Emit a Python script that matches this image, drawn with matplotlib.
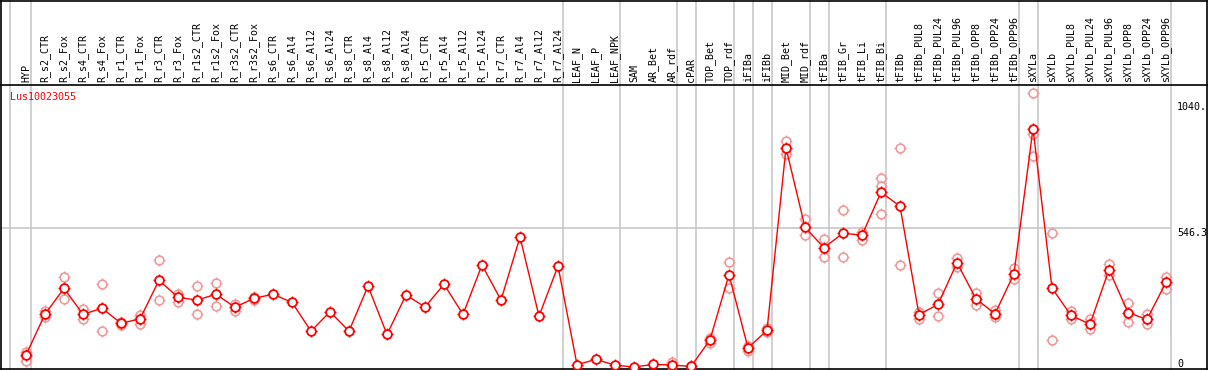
import matplotlib
matplotlib.use("Agg")
import matplotlib.pyplot as plt

# sample labels (columns of the expression profile)
labels = ["HYP",
          "R_s2_CTR", "R_s2_Fox", "R_s4_CTR", "R_s4_Fox", "R_r1_CTR", "R_r1_Fox",
          "R_r3_CTR", "R_r3_Fox", "R_r1s2_CTR", "R_r1s2_Fox", "R_r3s2_CTR", "R_r3s2_Fox",
          "R_s6_CTR", "R_s6_Al4", "R_s6_Al12", "R_s6_Al24",
          "R_s8_CTR", "R_s8_Al4", "R_s8_Al12", "R_s8_Al24",
          "R_r5_CTR", "R_r5_Al4", "R_r5_Al12", "R_r5_Al24",
          "R_r7_CTR", "R_r7_Al4", "R_r7_Al12", "R_r7_Al24",
          "LEAF_N", "LEAF_P", "LEAF_NPK", "SAM", "AR_Bet", "AR_rdf", "cPAR",
          "TOP_Bet", "TOP_rdf", "iFIBa", "iFIBb", "MID_Bet", "MID_rdf",
          "tFIBa", "tFIB_Gr", "tFIB_Li", "tFIB_Bi", "tFIBb",
          "tFIBb_PUL8", "tFIBb_PUL24", "tFIBb_PUL96", "tFIBb_OPP8", "tFIBb_OPP24", "tFIBb_OPP96",
          "sXYLa", "sXYLb",
          "sXYLb_PUL8", "sXYLb_PUL24", "sXYLb_PUL96", "sXYLb_OPP8", "sXYLb_OPP24", "sXYLb_OPP96"]

means = [47,
         208, 309, 207, 231, 172, 189,
         341, 274, 263, 286, 235, 270,
         286, 254, 141, 217,
         141, 318, 128, 283,
         236, 325, 207, 401,
         263, 511, 200, 397,
         9, 30, 7, 0, 10, 8, 2,
         107, 363, 75, 144, 861, 549,
         469, 526, 518, 687, 632,
         206, 246, 410, 268, 209, 367,
         937, 310,
         203, 168, 383, 214, 187, 333]

replicates = [[60, 45, 25],
              [221, 198], [352, 268], [228, 189], [325, 140], [176, 165], [204, 169],
              [419, 262], [288, 255], [317, 207], [330, 241], [249, 220], [276, 264],
              [], [], [], [],
              [], [], [], [],
              [], [], [], [],
              [], [], [], [],
              [], [], [], [], [], [18, 2], [4],
              [115, 96], [413, 311], [83, 63], [155, 138], [887, 838], [580, 517],
              [503, 431], [619, 431], [532, 499], [742, 713, 600], [861, 400],
              [217, 190], [291, 200], [430, 393], [291, 242], [226, 196], [390, 344],
              [1076, 914, 829], [528, 105],
              [220, 190], [187, 148], [406, 360], [250, 178], [207, 170], [355, 305]]

group_ends = [-1.09, 0, 28, 31, 34, 35, 37, 38, 39, 41, 42, 45, 52, 53, 60]
tick_vals = [1040, 546.3, 0]
tick_text = ["1040.", "546.3", "0"]
gene = "Lus10023055"

# pixel layout: column i sits at x = 26 + 19*i, value v at y = 367 - 0.2544*v
W, H = 1209, 370
def px_x(p):
    return (p - 26) / 19.0
def px_y(p):
    return (367 - p) / 0.2544

fig = plt.figure(figsize=(W / 100, H / 100), dpi=100)
ax = fig.add_axes([0, 0, 1, 1])
ax.set_xlim(px_x(0), px_x(W))
ax.set_ylim(px_y(H), px_y(0))
ax.axis("off")

mono = "DejaVu Sans Mono"
fs = 7.2
gray = "#c8c8c8"

# grid: group separators and value line
for g in group_ends:
    ax.axvline(g + 0.25, color=gray, lw=1.2, zorder=1)
ax.plot([px_x(1), px_x(1170)], [tick_vals[1], tick_vals[1]], color=gray, lw=1.2, zorder=1)

# frame
top, hdr, bot = px_y(0.5), px_y(85), px_y(369)
left, right = px_x(1.5), px_x(1207)
ax.plot([left, right], [top, top], color="black", lw=1.2)
ax.plot([left, right], [hdr, hdr], color="black", lw=1.2)
ax.plot([left, right], [bot, bot], color="black", lw=1.2)
ax.plot([left, left], [bot, top], color="black", lw=1.2)
ax.plot([right, right], [bot, top], color="black", lw=1.2)

# header labels
for i, lab in enumerate(labels):
    ax.text(i, px_y(82), lab, rotation=90, ha="center", va="bottom",
            family=mono, fontsize=fs, color="black")

ax.text(px_x(10), px_y(92), gene, ha="left", va="top", family=mono,
        fontsize=fs, color="red")

# value labels on the right
for v, t in zip(tick_vals, tick_text):
    if v == 0:
        ax.text(px_x(1177), px_y(369), t, ha="left", va="bottom",
                family=mono, fontsize=fs, color="black")
    else:
        ax.text(px_x(1177), v, t, ha="left", va="top",
                family=mono, fontsize=fs, color="black")

# replicates
pink = "#f09a9a"
for i, reps in enumerate(replicates):
    for r in reps:
        ax.plot(i, r, marker="+", ms=8.5, mew=1.0, color=pink, zorder=2)
        ax.plot(i, r, marker="o", ms=6.3, mfc="white", mec=pink, mew=1.2, zorder=2)

# mean profile
xs = list(range(len(means)))
ax.plot(xs, means, color="red", lw=1.0, zorder=3)
ax.plot(xs, means, ls="none", marker="+", ms=8.5, mew=1.0, color="red", zorder=4)
ax.plot(xs, means, ls="none", marker="o", ms=6.3, mfc="white", mec="red", mew=1.3, zorder=4)

fig.savefig("out.png", dpi=100)
